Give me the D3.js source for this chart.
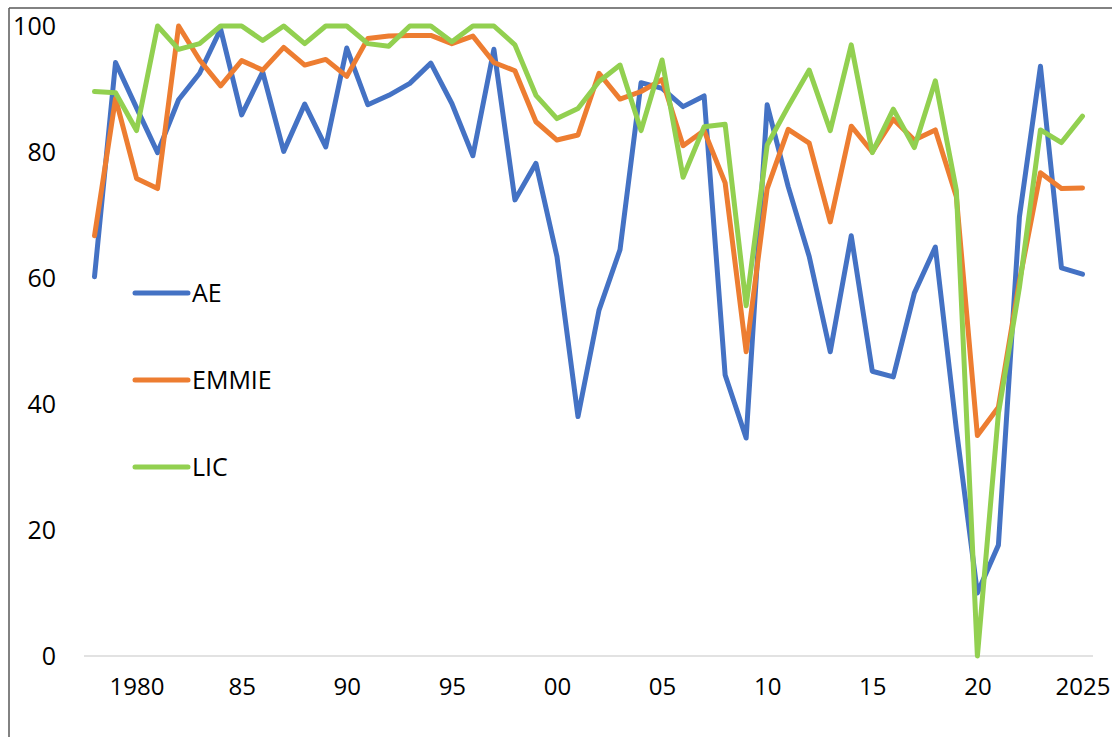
<!DOCTYPE html>
<html>
<head>
<meta charset="utf-8">
<script src="https://cdn.jsdelivr.net/npm/d3@7"></script>
<style>
  html, body { margin: 0; padding: 0; background: #ffffff; }
  svg { display: block; }
  text { font-family: "Open Sans", "Noto Sans", sans-serif; fill: #000; }
</style>
</head>
<body>
<svg id="chart" width="1112" height="737"></svg>
<script>
// Years on the category axis
const years = d3.range(1978, 2026);

// Share of economies (%) per group, one value per year 1978–2025
const aeValues = [
  60.2, 94.2, 87.0, 79.9, 88.3, 92.5, 99.5, 85.9, 92.7, 80.1,
  87.6, 80.8, 96.5, 87.5, 89.0, 90.9, 94.1, 87.7, 79.4, 96.3,
  72.4, 78.2, 63.4, 38.0, 54.9, 64.5, 91.0, 90.1, 87.2, 88.9,
  44.6, 34.6, 87.5, 74.5, 63.4, 48.3, 66.7, 45.2, 44.3, 57.6,
  64.9, 36.0, 10.0, 17.6, 69.7, 93.6, 61.6, 60.6
];
const emmieValues = [
  66.7, 88.5, 75.8, 74.2, 100.0, 94.6, 90.5, 94.5, 93.0, 96.6,
  93.8, 94.7, 92.0, 98.0, 98.4, 98.5, 98.5, 97.2, 98.4, 94.2,
  92.9, 84.8, 81.9, 82.7, 92.5, 88.4, 89.6, 91.5, 81.0, 83.4,
  75.1, 48.3, 74.2, 83.6, 81.4, 68.9, 84.1, 80.0, 85.2, 81.9,
  83.5, 72.9, 35.0, 39.5, 59.5, 76.7, 74.2, 74.3
];
const licValues = [
  89.6, 89.4, 83.4, 100.0, 96.3, 97.2, 100.0, 100.0, 97.7, 100.0,
  97.2, 100.0, 100.0, 97.2, 96.8, 100.0, 100.0, 97.5, 100.0, 100.0,
  97.0, 89.0, 85.3, 86.9, 91.2, 93.8, 83.4, 94.6, 76.0, 84.0,
  84.4, 55.6, 81.1, 87.2, 93.0, 83.4, 97.0, 79.9, 86.8, 80.7,
  91.3, 73.9, 0.0, 38.5, 58.5, 83.5, 81.5, 85.7
];

const seriesNames = ["AE", "EMMIE", "LIC"];
const seriesColors = ["#4472C4", "#ED7D31", "#92D050"];
const yTicks = [0, 20, 40, 60, 80, 100];
const xTickYears = [1980, 1985, 1990, 1995, 2000, 2005, 2010, 2015, 2020, 2025];
const xTickLabels = ["1980", "85", "90", "95", "00", "05", "10", "15", "20", "2025"];

const series = [aeValues, emmieValues, licValues].map((vals, i) => ({
  name: seriesNames[i],
  color: seriesColors[i],
  points: years.map((yr, j) => ({ year: yr, value: vals[j] }))
}));

const svg = d3.select("#chart");

// Plot geometry
const plotLeft = 84, plotRight = 1093, plotTop = 26, plotBottom = 656;

const x = d3.scalePoint().domain(years).range([plotLeft, plotRight]).padding(0.5);
const y = d3.scaleLinear().domain([0, 100]).range([plotBottom, plotTop]);

// Frame lines along the top and left edges
svg.append("line").attr("x1", 9).attr("x2", 1112).attr("y1", 8).attr("y2", 8)
  .attr("stroke", "#595959").attr("stroke-width", 1.5);
svg.append("line").attr("x1", 9).attr("x2", 9).attr("y1", 8).attr("y2", 737)
  .attr("stroke", "#595959").attr("stroke-width", 1.5);

// Baseline at zero
svg.append("line")
  .attr("x1", plotLeft).attr("x2", plotRight)
  .attr("y1", y(0)).attr("y2", y(0))
  .attr("stroke", "#d9d9d9").attr("stroke-width", 1.5);

// Y axis labels
const yAxis = d3.axisLeft(y).tickValues(yTicks).tickSize(0).tickPadding(0);
const yG = svg.append("g").attr("transform", "translate(56,0)").call(yAxis);
yG.select(".domain").remove();
yG.selectAll("text")
  .attr("font-size", 25)
  .attr("font-family", "'Open Sans', 'Noto Sans', sans-serif")
  .attr("fill", "#000");

// X axis labels
const xAxis = d3.axisBottom(x)
  .tickValues(xTickYears)
  .tickFormat(d => xTickLabels[xTickYears.indexOf(d)])
  .tickSize(0).tickPadding(0);
const xG = svg.append("g").attr("transform", `translate(0,${y(0) + 22})`).call(xAxis);
xG.select(".domain").remove();
xG.selectAll("text")
  .attr("font-size", 24)
  .attr("font-family", "'Open Sans', 'Noto Sans', sans-serif")
  .attr("fill", "#000");

// Series lines
const line = d3.line().x(d => x(d.year)).y(d => y(d.value));
svg.append("g").selectAll("path")
  .data(series)
  .join("path")
  .attr("d", d => line(d.points))
  .attr("fill", "none")
  .attr("stroke", d => d.color)
  .attr("stroke-width", 5)
  .attr("stroke-linejoin", "round")
  .attr("stroke-linecap", "round");

// Legend
const legendY = [293, 380, 467];
const legend = svg.append("g").selectAll("g")
  .data(series)
  .join("g")
  .attr("transform", (d, i) => `translate(0,${legendY[i]})`);
legend.append("line")
  .attr("x1", 135).attr("x2", 188).attr("y1", 0).attr("y2", 0)
  .attr("stroke", d => d.color).attr("stroke-width", 5)
  .attr("stroke-linecap", "round");
legend.append("text")
  .attr("x", 192).attr("y", 0).attr("dy", "0.35em")
  .attr("font-size", 25)
  .text(d => d.name);
</script>
</body>
</html>
